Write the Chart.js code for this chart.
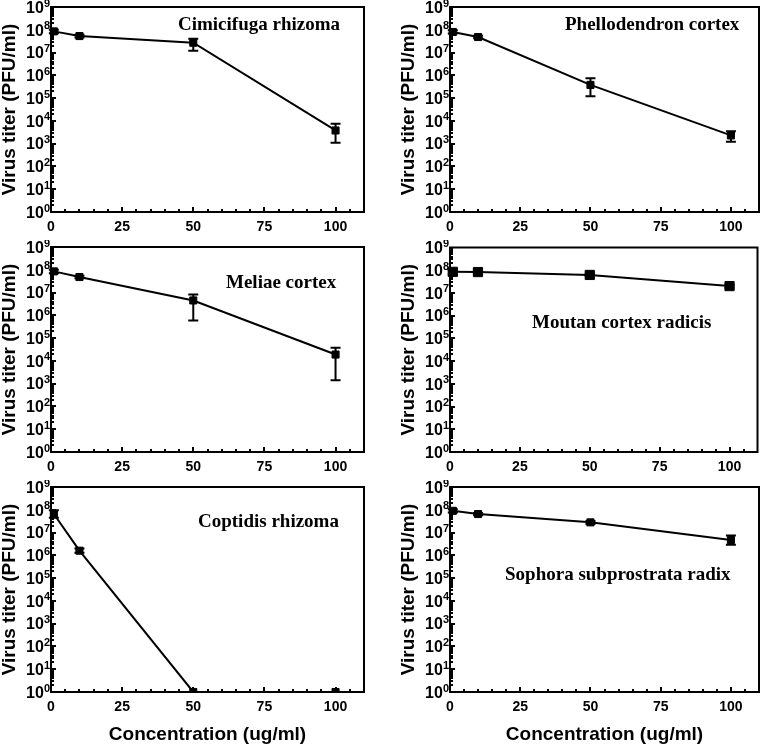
<!DOCTYPE html>
<html>
<head>
<meta charset="utf-8">
<script src="https://cdn.jsdelivr.net/npm/chart.js@4.4.1/dist/chart.umd.min.js"></script>
<style>
  body { margin: 0; background: #fff; }
  #wrap { position: relative; width: 765px; height: 744px; }
  canvas { position: absolute; }
</style>
</head>
<body>
<div id="wrap"></div>
<script>
// concentrations tested (ug/ml)
const concentrations = [1, 10, 50, 100];
const xTicks = [0, 25, 50, 75, 100];
const yTicks = [1, 1e1, 1e2, 1e3, 1e4, 1e5, 1e6, 1e7, 1e8, 1e9];

const herbs = [
  'Cimicifuga rhizoma', 'Phellodendron cortex',
  'Meliae cortex', 'Moutan cortex radicis',
  'Coptidis rhizoma', 'Sophora subprostrata radix'
];

// virus titer (PFU/ml), mean and [low, high] error range
const cimicifugaTiter = [8.5e7, 5.3e7, 2.7e7, 3.8e3];
const cimicifugaRange = [[7e7, 1e8], [4.6e7, 6e7], [1.2e7, 4e7], [1.1e3, 7.5e3]];
const phellodendronTiter = [8e7, 4.8e7, 3.8e5, 2.3e3];
const phellodendronRange = [[6.8e7, 9.5e7], [4.2e7, 5.5e7], [1.2e5, 7.5e5], [1.2e3, 3.5e3]];
const meliaeTiter = [8.5e7, 4.8e7, 4.5e6, 1.9e4];
const meliaeRange = [[7e7, 1e8], [4.2e7, 5.5e7], [6e5, 8.3e6], [1.4e3, 3.8e4]];
const moutanTiter = [8.5e7, 8.3e7, 6.2e7, 2e7];
const moutanRange = [[6.5e7, 1e8], [7.5e7, 9.5e7], [5.5e7, 7e7], [1.7e7, 2.3e7]];
const coptidisTiter = [6.5e7, 1.6e6, 1, 1];
const coptidisRange = [[4.5e7, 9.5e7], [1.3e6, 2e6], [1, 1], [1, 1]];
const sophoraTiter = [9e7, 6.5e7, 2.8e7, 4.7e6];
const sophoraRange = [[7.5e7, 1.05e8], [5.8e7, 7.3e7], [2.4e7, 3.2e7], [2.9e6, 7.5e6]];

const titers = [cimicifugaTiter, phellodendronTiter, meliaeTiter, moutanTiter, coptidisTiter, sophoraTiter];
const ranges = [cimicifugaRange, phellodendronRange, meliaeRange, moutanRange, coptidisRange, sophoraRange];

// panel placement and label spots (canvas px)
const panels = [
  { left: 0,   top: 0,   w: 380, h: 240, note: [178, 25], r: 5 },
  { left: 399, top: 0,   w: 366, h: 240, note: [166, 25], r: 5 },
  { left: 0,   top: 240, w: 380, h: 240, note: [226, 43], r: 5 },
  { left: 399, top: 240, w: 366, h: 240, note: [133, 83], r: 6.5 },
  { left: 0,   top: 480, w: 380, h: 264, note: [198, 42], r: 5 },
  { left: 399, top: 480, w: 366, h: 264, note: [106, 95], r: 5 }
];

const SANS = '"Liberation Sans", Arial, sans-serif';
const PLOT_BOTTOM = 212;
const AXIS_LEFT = 51;

const boxPlugin = {
  id: 'box',
  beforeDatasetsDraw(chart, args, opts) {
    const { ctx } = chart;
    const xs = chart.scales.x, ys = chart.scales.y;
    ctx.save();
    ctx.strokeStyle = '#000';
    ctx.lineWidth = 2;
    opts.range.forEach((rg, i) => {
      const px = xs.getPixelForValue(concentrations[i]);
      const lo = ys.getPixelForValue(rg[0]);
      const hi = ys.getPixelForValue(rg[1]);
      if (Math.abs(hi - lo) < 1) return;
      ctx.beginPath();
      ctx.moveTo(px, lo); ctx.lineTo(px, hi);
      ctx.moveTo(px - 5, lo); ctx.lineTo(px + 5, lo);
      ctx.moveTo(px - 5, hi); ctx.lineTo(px + 5, hi);
      ctx.stroke();
    });
    ctx.restore();
  },
  afterDraw(chart, args, opts) {
    const { ctx, chartArea: a } = chart;
    const xs = chart.scales.x, ys = chart.scales.y;
    ctx.save();
    ctx.strokeStyle = '#000';
    ctx.lineWidth = 2;
    ctx.strokeRect(a.left, a.top, a.right - a.left, a.bottom - a.top);
    // inward ticks on x
    ctx.beginPath();
    for (let v = 5; v < 110; v += 5) {
      const px = Math.round(xs.getPixelForValue(v));
      const len = v % 25 === 0 ? 5 : 3;
      ctx.moveTo(px, a.bottom); ctx.lineTo(px, a.bottom - len);
    }
    // inward ticks on y (decades + minor)
    for (let d = 0; d < 9; d++) {
      for (let m = 1; m <= 9; m++) {
        if (m === 1 && d === 0) continue;
        const py = Math.round(ys.getPixelForValue(m * Math.pow(10, d)));
        const len = m === 1 ? 5 : 3;
        ctx.moveTo(a.left, py); ctx.lineTo(a.left + len, py);
      }
    }
    ctx.stroke();
    // y tick labels as 10 with raised exponent
    ctx.fillStyle = '#000';
    ctx.textAlign = 'right';
    ctx.textBaseline = 'alphabetic';
    yTicks.forEach(v => {
      const py = ys.getPixelForValue(v);
      const e = String(Math.round(Math.log10(v)));
      ctx.font = 'bold 11px ' + SANS;
      const ew = ctx.measureText(e).width;
      ctx.fillText(e, a.left - 1, py - 0.5);
      ctx.font = 'bold 16px ' + SANS;
      ctx.fillText('10', a.left - 1 - ew, py + 5.8);
    });
    // herb name
    ctx.font = 'bold 19px "Liberation Serif", "Times New Roman", serif';
    ctx.textBaseline = 'middle';
    ctx.textAlign = 'left';
    ctx.fillText(opts.name, opts.note[0], opts.note[1]);
    ctx.restore();
  }
};

const wrap = document.getElementById('wrap');

panels.forEach((p, k) => {
  const cv = document.createElement('canvas');
  cv.width = p.w; cv.height = p.h;
  cv.style.left = p.left + 'px';
  cv.style.top = p.top + 'px';
  cv.style.width = p.w + 'px';
  cv.style.height = p.h + 'px';
  wrap.appendChild(cv);
  const bottomRow = k >= 4;

  new Chart(cv, {
    type: 'line',
    data: {
      datasets: [{
        data: concentrations.map((c, i) => ({ x: c, y: titers[k][i] })),
        borderColor: '#000',
        borderWidth: 2,
        backgroundColor: '#000',
        pointStyle: 'rect',
        pointRadius: p.r,
        pointBorderWidth: 1,
        pointBackgroundColor: '#000',
        pointBorderColor: '#000',
        tension: 0,
        clip: { left: 10, right: 10, top: 10, bottom: 0 }
      }]
    },
    options: {
      responsive: false,
      animation: false,
      devicePixelRatio: 1,
      layout: { padding: { left: 0, top: 7, right: p.w - (k % 2 ? 362 : 364), bottom: 0 } },
      plugins: {
        legend: { display: false },
        tooltip: { enabled: false },
        box: { name: herbs[k], note: p.note, range: ranges[k] }
      },
      scales: {
        x: {
          type: 'linear',
          min: 0,
          max: 110,
          grid: { display: false, drawTicks: false },
          border: { display: false },
          afterBuildTicks: s => { s.ticks = xTicks.map(v => ({ value: v })); },
          afterFit: s => { s.height = p.h - PLOT_BOTTOM; },
          ticks: {
            color: '#000',
            padding: 7,
            maxRotation: 0,
            font: { family: SANS, size: 14, weight: 'bold' }
          },
          title: {
            display: bottomRow,
            text: 'Concentration (ug/ml)',
            color: '#000',
            padding: 0,
            font: { family: SANS, size: 19, weight: 'bold', lineHeight: 1 }
          }
        },
        y: {
          type: 'logarithmic',
          min: 1,
          max: 1e9,
          grid: { display: false, drawTicks: false },
          border: { display: false },
          afterBuildTicks: s => { s.ticks = yTicks.map(v => ({ value: v })); },
          afterFit: s => { s.width = AXIS_LEFT; },
          ticks: { display: false },
          title: {
            display: true,
            text: 'Virus titer (PFU/ml)',
            color: '#000',
            padding: 0,
            font: { family: SANS, size: 19, weight: 'bold', lineHeight: 1 }
          }
        }
      }
    },
    plugins: [boxPlugin]
  });
});
</script>
</body>
</html>
